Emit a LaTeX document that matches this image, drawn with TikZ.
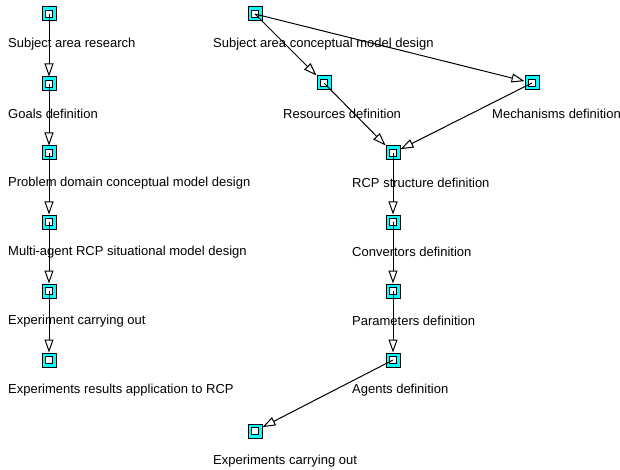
\documentclass[tikz,border=0pt]{standalone}
\usepackage{fontspec}
\setmainfont{Liberation Sans}
\usepackage{tikz}
\usetikzlibrary{positioning,calc,arrows.meta}
\definecolor{BoxCyan}{RGB}{0,255,255}

\begin{document}
\begin{tikzpicture}[x=1pt, y=-1pt,
                % node styles
                stepnode/.style={rectangle, draw=black, fill=BoxCyan, line width=1pt, minimum size=14pt, inner sep=0pt,
                    path picture={\draw[fill=white, line width=1pt] ($(path picture bounding box.center)+(-3.2,-3.2)$) rectangle ($(path picture bounding box.center)+(3.2,3.2)$);}},
                steplabel/.style={anchor=west, inner sep=0pt, font=\fontsize{13}{15}\selectfont},
                % edge style
                flow/.style={-{Triangle[open, length=13pt, width=9pt]}, draw=black, line width=1pt}
            ]
                \useasboundingbox (0,0) rectangle (620,470);

                % --- LEFT COLUMN ---
                \node[stepnode] (srch) at (49, 14) {};
                \node[stepnode] (goal) at (49, 84) {};
                \node[stepnode] (pdcm) at (49, 153) {};
                \node[stepnode] (masm) at (49, 222) {};
                \node[stepnode] (expc) at (49, 291) {};
                \node[stepnode] (expa) at (49, 360) {};

                \node[steplabel] (lsrch) at (8, 44) {Subject area research};
                \node[steplabel] (lgoal) at (8, 114) {Goals definition};
                \node[steplabel] (lpdcm) at (8, 183) {Problem domain conceptual model design};
                \node[steplabel] (lmasm) at (8, 252) {Multi-agent RCP situational model design};
                \node[steplabel] (lexpc) at (8, 321) {Experiment carrying out};
                \node[steplabel] (lexpa) at (8, 390) {Experiments results application to RCP};

                % --- RIGHT PART ---
                \node[stepnode] (sacm) at (255, 14) {};
                \node[stepnode] (res) at (324, 83) {};
                \node[stepnode] (mech) at (532, 83) {};
                \node[stepnode] (rcp) at (393, 153) {};
                \node[stepnode] (conv) at (393, 222) {};
                \node[stepnode] (par) at (393, 291) {};
                \node[stepnode] (agt) at (393, 360) {};
                \node[stepnode] (expr) at (255, 431) {};

                \node[steplabel] (lsacm) at (213, 44) {Subject area conceptual model design};
                \node[steplabel] (lres) at (283, 114) {Resources definition};
                \node[steplabel] (lmech) at (492, 114) {Mechanisms definition};
                \node[steplabel] (lrcp) at (352, 183) {RCP structure definition};
                \node[steplabel] (lconv) at (352, 252) {Convertors definition};
                \node[steplabel] (lpar) at (352, 321) {Parameters definition};
                \node[steplabel] (lagt) at (352, 390) {Agents definition};
                \node[steplabel] (lexpr) at (213, 461) {Experiments carrying out};

                % --- EDGES ---
                \draw[flow] (srch.center) -- (goal);
                \draw[flow] (goal.center) -- (pdcm);
                \draw[flow] (pdcm.center) -- (masm);
                \draw[flow] (masm.center) -- (expc);
                \draw[flow] (expc.center) -- (expa);

                \draw[flow] (sacm.center) -- (res);
                \draw[flow] (sacm.center) -- (mech);
                \draw[flow] (res.center) -- (rcp);
                \draw[flow] (mech.center) -- (rcp);
                \draw[flow] (rcp.center) -- (conv);
                \draw[flow] (conv.center) -- (par);
                \draw[flow] (par.center) -- (agt);
                \draw[flow] (agt.center) -- (expr);

            \end{tikzpicture}
\end{document}
